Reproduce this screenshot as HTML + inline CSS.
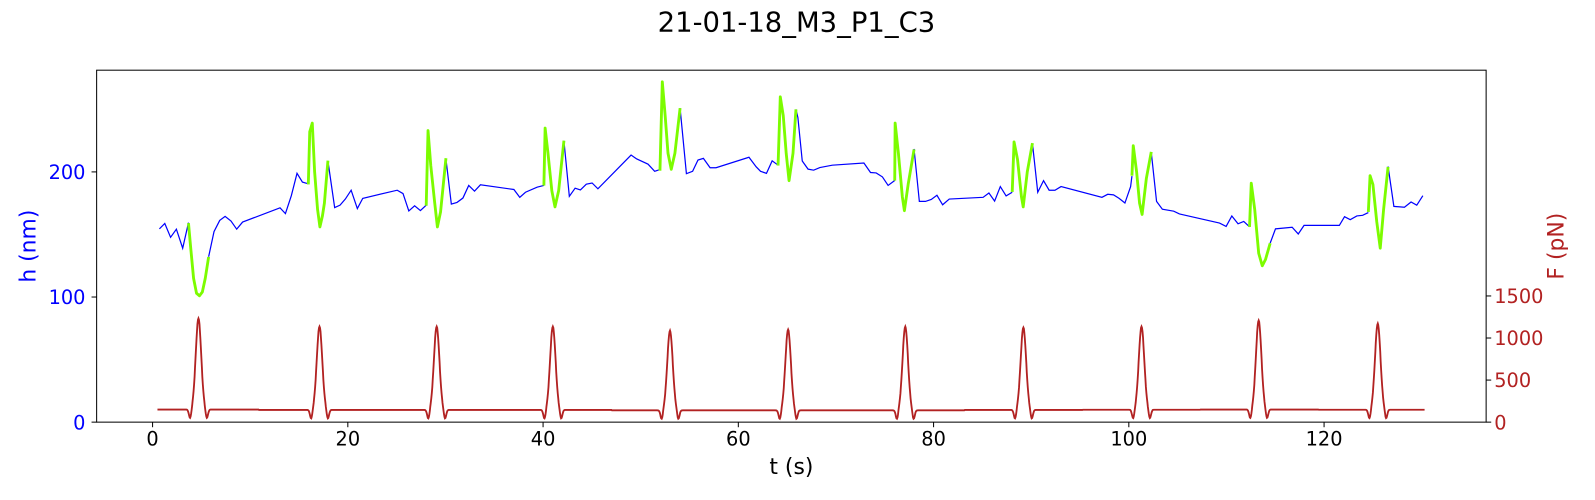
<!DOCTYPE html>
<html><head><meta charset="utf-8"><style>
body{margin:0;background:#fff}
svg{display:block;font-family:"DejaVu Sans","Liberation Sans",sans-serif}
</style></head><body>
<svg id="chart" width="1595" height="500" viewBox="0 0 1595 500">
<g transform="scale(1.0172)">
<text x="783" y="31" text-anchor="middle" font-size="27">21-01-18_M3_P1_C3</text>
<g id="plot"></g>
<rect x="95" y="69" width="1366" height="346" fill="none" stroke="#000" stroke-width="1"/>
<text x="778" y="466" text-anchor="middle" font-size="21.5">t (s)</text>
<text transform="translate(35,242) rotate(-90)" text-anchor="middle" font-size="21.5" fill="#0000ff">h (nm)</text>
<text transform="translate(1537,242) rotate(-90)" text-anchor="middle" font-size="21.5" fill="#b22222">F (pN)</text>
</g>
</svg>
<script>
const xTicks=[0,20,40,60,80,100,120];
const hTicks=[0,100,200];
const fTicks=[0,500,1000,1500];
// blue h trace segments (t, h), separated where green covers
const blueT=[[0.70,1.25,1.84,2.44,3.08,3.68],[5.74,6.29,6.88,7.43,8.03,8.62,9.22,13.06,13.61,14.21,14.80,15.35,15.95],[17.96,18.65,19.20,19.75,20.34,20.98,21.53,25.06,25.65,26.25,26.84,27.44,28.03],[30.05,30.60,31.19,31.79,32.38,32.98,33.58,37.01,37.61,38.20,39.39,40.08],[42.14,42.69,43.28,43.83,44.43,45.02,45.62,49.01,49.60,50.75,51.43,51.97],[54.04,54.68,55.32,55.87,56.42,57.11,57.71,61.09,61.83,62.28,62.88,63.47,64.07],[65.9,66.10,66.55,67.14,67.72,68.35,69.62,72.86,73.54,74.13,74.76,75.34,76.02],[78.0,78.54,79.17,79.76,80.35,80.93,81.61,85.08,85.67,86.25,86.84,87.43,88.06],[90.13,90.67,91.26,91.84,92.43,93.06,97.25,97.84,98.43,99.01,99.60,100.18,100.32],[102.3,102.84,103.43,104.60,105.19,109.29,109.97,110.55,111.19,111.77,112.36],[114.48,115.02,116.73,117.36,117.95,121.56,122.10,122.68,123.36,123.95,124.53],[126.56,127.15,128.23,128.91,129.49,130.12]];
const blueH=[[154.5,158.8,147.7,154.2,139.0,159.4],[132.2,152.3,161.2,164.5,160.7,154.2,159.9,171.3,166.7,181.0,198.9,191.9,190.5],[208.7,171.5,173.4,178.3,185.4,170.7,178.9,185.4,182.7,168.8,172.9,169.1,173.4],[210.3,174.3,175.6,179.1,189.2,184.6,189.7,185.9,179.7,183.7,187.8,189.2],[224.9,180.5,187.0,185.6,190.2,191.1,186.5,213.5,210.3,206.2,200.5,201.9],[250.9,198.6,200.5,209.5,210.8,203.3,203.3,211.7,204.1,200.5,198.9,208.9,205.4],[250,243.4,208.7,202.2,201.4,203.5,205.4,207.1,199.5,199.2,196.0,189.2,193.2],[218.4,176.4,176.4,178.0,181.3,173.7,178.3,179.7,183.2,176.7,188.3,180.8,183.7],[222.8,183.7,193.0,185.4,185.4,188.3,179.7,182.1,181.6,178.9,175.1,188.3,196.7],[215.7,176.4,170.2,168.6,166.4,159.1,156.4,164.8,158.5,160.4,156.1],[143.1,154.5,155.8,150.4,157.2,157.2,164.2,161.8,164.8,165.3,167.5],[204.3,172.4,171.8,175.9,173.4,181.0]];
// green h trace segments during force pulses
const greenT=[[3.68,3.9,4.2,4.5,4.8,5.1,5.4,5.74],[15.95,16.1,16.36,16.6,16.9,17.14,17.4,17.6,17.96],[28.03,28.22,28.5,28.9,29.18,29.5,30.05],[40.08,40.21,40.5,40.9,41.22,41.6,42.14],[51.97,52.21,52.5,52.8,53.13,53.5,54.04],[64.07,64.3,64.6,64.9,65.2,65.6,65.9],[76.02,76.06,76.4,76.8,77.01,77.4,78.0],[88.06,88.24,88.6,89.0,89.18,89.6,90.13],[100.32,100.46,100.8,101.1,101.36,101.8,102.3],[112.36,112.54,112.9,113.3,113.67,114.0,114.48],[124.53,124.71,125.0,125.4,125.75,126.1,126.56]];
const greenH=[[159,140,115,103,101,104,115,132],[190,232,239,200,170,156,165,175,209],[173,233,205,175,156,168,211],[189,235,215,185,172,185,225],[201,272,245,215,202,215,251],[205,260,245,215,193,215,250],[193,239,215,180,169,190,218],[184,224,210,180,172,200,223],[197,221,200,175,166,195,216],[156,191,170,135,125,130,143],[168,197,190,160,139,170,204]];
// force pulses
const peakTimes=[4.7,17.1,29.1,41.0,53.0,65.1,77.1,89.2,101.3,113.3,125.5];
const peakForces=[1233,1137,1137,1137,1088,1100,1137,1125,1137,1209,1173];
const baseForces=[150,145,145,145,140,140,140,145,148,150,148];
const fStart=0.5, fEnd=130.3;

const X=t=>95+(t+5.73)*(1366/142.33);
const YH=h=>415-h*1.23;
const YF=f=>415-f*0.0827;
const NS='http://www.w3.org/2000/svg';
const plot=document.getElementById('plot');
function mk(tag,attrs){const e=document.createElementNS(NS,tag);for(const k in attrs)e.setAttribute(k,attrs[k]);plot.appendChild(e);return e;}

xTicks.forEach(v=>{
 const l=mk('line',{x1:X(v),x2:X(v),y1:415,y2:420,stroke:'#000'});
 
 
 const t=mk('text',{x:X(v),y:438,'text-anchor':'middle','font-size':19});t.textContent=v;
 
 
});
hTicks.forEach(v=>{
 const l=mk('line',{x1:90,x2:95,y1:YH(v),y2:YH(v),stroke:'#000'});
 
 
 const t=mk('text',{x:84,y:YH(v)+7,'text-anchor':'end','font-size':19,fill:'#0000ff'});t.textContent=v;
 
 
});
fTicks.forEach(v=>{
 const l=mk('line',{x1:1461,x2:1466,y1:YF(v),y2:YF(v),stroke:'#000'});
 
 
 const t=mk('text',{x:1469,y:YF(v)+7,'font-size':19,fill:'#b22222'});t.textContent=v;
 
 
});

// force trace
const fp=[];
for(let t=fStart;t<=fEnd;t+=0.05){
 let k=0;for(let i=0;i<peakTimes.length;i++){if(Math.abs(t-peakTimes[i])<Math.abs(t-peakTimes[k]))k=i;}
 const base=baseForces[k];
 const d=t-peakTimes[k];
 const dd=Math.abs(d)-0.85;
 const f=base+(peakForces[k]-base)*Math.exp(-d*d/(2*0.28*0.28))-110*Math.exp(-dd*dd/(2*0.12*0.12));
 fp.push(X(t).toFixed(1)+','+YF(f).toFixed(1));
}
const fl=mk('polyline',{points:fp.join(' '),fill:'none',stroke:'#b22222','stroke-width':1.8});



blueT.forEach((ts,i)=>{
 const p=mk('polyline',{points:ts.map((t,j)=>X(t).toFixed(1)+','+YH(blueH[i][j]).toFixed(1)).join(' '),fill:'none',stroke:'#0000ff','stroke-width':1.2});
 
 
});
greenT.forEach((ts,i)=>{
 const p=mk('polyline',{points:ts.map((t,j)=>X(t).toFixed(1)+','+YH(greenH[i][j]).toFixed(1)).join(' '),fill:'none',stroke:'#7cfc00','stroke-width':2.8,'stroke-linejoin':'round'});
 
 
});
</script>
</body></html>
